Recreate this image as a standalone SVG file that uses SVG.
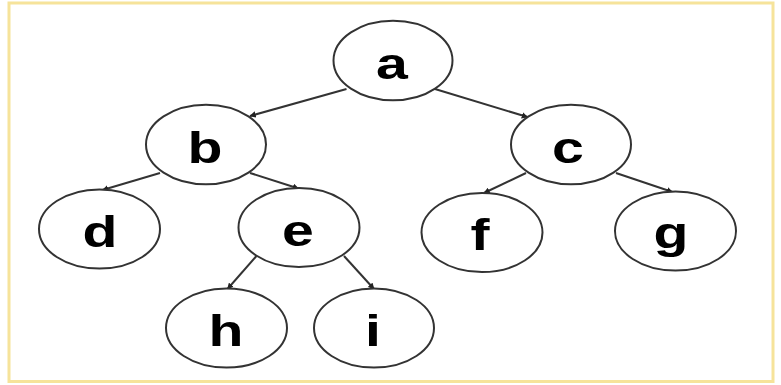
<svg xmlns="http://www.w3.org/2000/svg" width="781" height="385" viewBox="0 0 781 385">
  <style>
    .frame { fill: #ffffff; stroke: #f6e39a; stroke-width: 3; }
    .node ellipse { fill: #ffffff; stroke: #333333; stroke-width: 2; }
    .node text { font-family: "Liberation Sans", Arial, sans-serif; font-weight: bold; font-size: 44px; fill: #000000; text-anchor: middle; }
    .edge { stroke: #333333; stroke-width: 2; fill: none; marker-end: url(#tip); }
  </style>
  <defs>
    <marker id="tip" viewBox="0 0 10 10" refX="9" refY="5" markerWidth="3.2" markerHeight="3.2" orient="auto" markerUnits="strokeWidth">
      <path d="M0,0 L10,5 L0,10 Z" fill="#222222"/>
    </marker>
  </defs>

  <rect class="frame" x="9" y="3" width="764" height="378.5"/>

  <g id="connectors">
    <line class="edge" x1="346.5" y1="89" x2="250" y2="116"/>
    <line class="edge" x1="435" y1="89" x2="527.5" y2="117"/>
    <line class="edge" x1="160" y1="173" x2="102.5" y2="190"/>
    <line class="edge" x1="250" y1="173" x2="298.5" y2="188.5"/>
    <line class="edge" x1="526" y1="173" x2="484" y2="193"/>
    <line class="edge" x1="616" y1="173" x2="672.5" y2="192"/>
    <line class="edge" x1="256.5" y1="256" x2="227.5" y2="289"/>
    <line class="edge" x1="344" y1="256" x2="374" y2="289"/>
  </g>

  <g id="node-a" class="node">
    <ellipse cx="393" cy="60.5" rx="59.5" ry="39.8"/>
    <text transform="translate(392,78.5) scale(1.3,1)">a</text>
  </g>
  <g id="node-b" class="node">
    <ellipse cx="206" cy="144.5" rx="60" ry="39.8"/>
    <text transform="translate(205,162.5) scale(1.3,1)">b</text>
  </g>
  <g id="node-c" class="node">
    <ellipse cx="571" cy="144.5" rx="60" ry="39.8"/>
    <text transform="translate(568,162.5) scale(1.3,1)">c</text>
  </g>
  <g id="node-d" class="node">
    <ellipse cx="99.5" cy="229" rx="60.5" ry="39.6"/>
    <text transform="translate(100,246.5) scale(1.3,1)">d</text>
  </g>
  <g id="node-e" class="node">
    <ellipse cx="299" cy="227.5" rx="60.5" ry="39.6"/>
    <text transform="translate(298,246) scale(1.3,1)">e</text>
  </g>
  <g id="node-f" class="node">
    <ellipse cx="482" cy="232.5" rx="60.5" ry="39.6"/>
    <text transform="translate(480,250) scale(1.3,1)">f</text>
  </g>
  <g id="node-g" class="node">
    <ellipse cx="675.5" cy="231" rx="60.5" ry="39.6"/>
    <text transform="translate(671,248) scale(1.3,1)">g</text>
  </g>
  <g id="node-h" class="node">
    <ellipse cx="226.5" cy="328" rx="60.5" ry="39.6"/>
    <text transform="translate(226,346) scale(1.3,1)">h</text>
  </g>
  <g id="node-i" class="node">
    <ellipse cx="374" cy="328" rx="60" ry="39.6"/>
    <text transform="translate(373,346) scale(1.3,1)">i</text>
  </g>
</svg>
